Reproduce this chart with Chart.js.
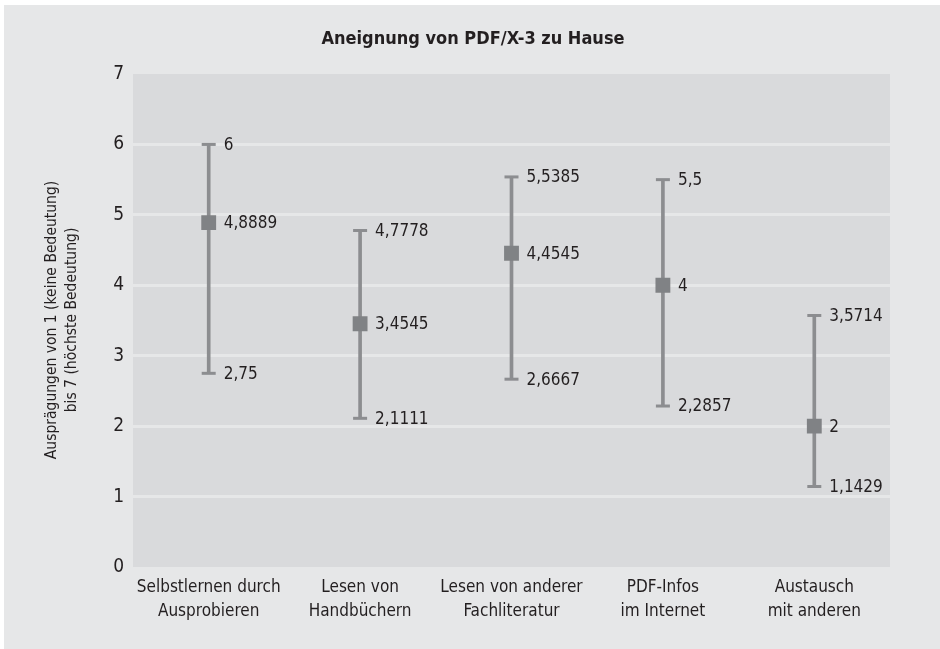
<!DOCTYPE html>
<html>
<head>
<meta charset="utf-8">
<script src="https://cdn.jsdelivr.net/npm/chart.js@4"></script>
<style>
  html, body { margin: 0; padding: 0; background: #ffffff; }
  canvas { display: block; }
</style>
</head>
<body>
<canvas id="chart" width="940" height="649"></canvas>
<script>
// Kategorien (zweizeilige Beschriftung)
const categories = [
  ["Selbstlernen durch", "Ausprobieren"],
  ["Lesen von", "Handbüchern"],
  ["Lesen von anderer", "Fachliteratur"],
  ["PDF-Infos", "im Internet"],
  ["Austausch", "mit anderen"]
];

// Werte
const highValues = [6, 4.7778, 5.5385, 5.5, 3.5714];
const meanValues = [4.8889, 3.4545, 4.4545, 4, 2];
const lowValues = [2.75, 2.1111, 2.6667, 2.2857, 1.1429];

const yTicks = [0, 1, 2, 3, 4, 5, 6, 7];

const chartTitle = "Aneignung von PDF/X-3 zu Hause";
const yTitle = ["Ausprägungen von 1 (keine Bedeutung)", "bis 7 (höchste Bedeutung)"];

const FONT = "'Liberation Sans Narrow', 'DejaVu Sans Condensed', sans-serif";
const TEXT = "#231f20";
const OUTER_BG = "#e6e7e8";
const PLOT_BG = "#d9dadc";
const BAR_GREY = "#8c8d90";
const MARK_GREY = "#808285";

// deutsche Zahlen mit Komma
function fmt(v) {
  return String(v).replace(".", ",");
}

// Hintergrund + Plotfläche
const backgroundPlugin = {
  id: "bg",
  beforeDraw(chart) {
    const ctx = chart.ctx;
    const a = chart.chartArea;
    ctx.save();
    ctx.fillStyle = "#ffffff";
    ctx.fillRect(0, 0, chart.width, chart.height);
    ctx.fillStyle = OUTER_BG;
    ctx.fillRect(4, 5, chart.width - 4, chart.height - 5);
    ctx.fillStyle = PLOT_BG;
    ctx.fillRect(a.left, a.top, a.right - a.left, a.bottom - a.top);
    ctx.restore();
  }
};

// Zahlen neben den Markern
const valueLabels = {
  id: "valueLabels",
  afterDatasetsDraw(chart) {
    const ctx = chart.ctx;
    ctx.save();
    ctx.font = "17px " + FONT;
    ctx.fillStyle = TEXT;
    ctx.textAlign = "left";
    ctx.textBaseline = "middle";
    [1, 2, 3].forEach(function(di) {
      const meta = chart.getDatasetMeta(di);
      const data = chart.data.datasets[di].data;
      meta.data.forEach(function(pt, i) {
        ctx.fillText(fmt(data[i]), pt.x + 15, pt.y + 1);
      });
    });
    ctx.restore();
  }
};

// Diagrammtitel und Achsentitel links (zweizeilig, gedreht)
const textPlugin = {
  id: "texts",
  afterDraw(chart) {
    const ctx = chart.ctx;
    ctx.save();
    ctx.fillStyle = TEXT;
    ctx.textAlign = "center";
    ctx.textBaseline = "middle";
    ctx.font = "bold 18px " + FONT;
    ctx.fillText(chartTitle, 473, 39);

    ctx.font = "15.5px " + FONT;
    ctx.translate(52, 320);
    ctx.rotate(-Math.PI / 2);
    ctx.fillText(yTitle[0], 0, 0);
    ctx.fillText(yTitle[1], 0, 20);
    ctx.restore();
  }
};

const ctx = document.getElementById("chart").getContext("2d");

new Chart(ctx, {
  type: "bar",
  data: {
    labels: categories,
    datasets: [
      {
        // Spannweite min..max
        type: "bar",
        data: lowValues.map(function(l, i) { return [l, highValues[i]]; }),
        backgroundColor: BAR_GREY,
        borderWidth: 0,
        barThickness: 3,
        grouped: false,
        order: 3
      },
      {
        type: "line",
        data: highValues,
        showLine: false,
        pointStyle: "line",
        pointRadius: 7,
        pointBorderWidth: 3,
        pointBorderColor: BAR_GREY,
        order: 2
      },
      {
        type: "line",
        data: lowValues,
        showLine: false,
        pointStyle: "line",
        pointRadius: 7,
        pointBorderWidth: 3,
        pointBorderColor: BAR_GREY,
        order: 2
      },
      {
        type: "line",
        data: meanValues,
        showLine: false,
        pointStyle: "rect",
        pointRadius: 10.5,
        pointBackgroundColor: MARK_GREY,
        pointBorderColor: MARK_GREY,
        pointBorderWidth: 0,
        order: 1
      }
    ]
  },
  options: {
    responsive: false,
    devicePixelRatio: 1,
    animation: false,
    events: [],
    layout: {
      padding: { left: 0, right: 50, top: 74, bottom: 0 }
    },
    plugins: {
      legend: { display: false },
      tooltip: { enabled: false },
      title: { display: false }
    },
    scales: {
      x: {
        grid: { display: false, drawTicks: false },
        border: { display: false },
        ticks: {
          color: TEXT,
          font: { family: FONT, size: 17, lineHeight: 1.4 },
          padding: 9,
          maxRotation: 0,
          autoSkip: false
        },
        afterFit: function(s) { s.height = 82; }
      },
      y: {
        min: 0,
        max: 7,
        afterBuildTicks: function(s) {
          s.ticks = yTicks.map(function(v) { return { value: v }; });
        },
        grid: {
          drawTicks: false,
          lineWidth: 3,
          color: function(c) {
            const v = c.tick ? c.tick.value : 0;
            return (v === 0 || v === 7) ? "rgba(0,0,0,0)" : OUTER_BG;
          }
        },
        border: { display: false },
        ticks: {
          color: TEXT,
          font: { family: FONT, size: 19 },
          padding: 9
        },
        afterFit: function(s) { s.width = 133; }
      }
    }
  },
  plugins: [backgroundPlugin, valueLabels, textPlugin]
});
</script>
</body>
</html>
